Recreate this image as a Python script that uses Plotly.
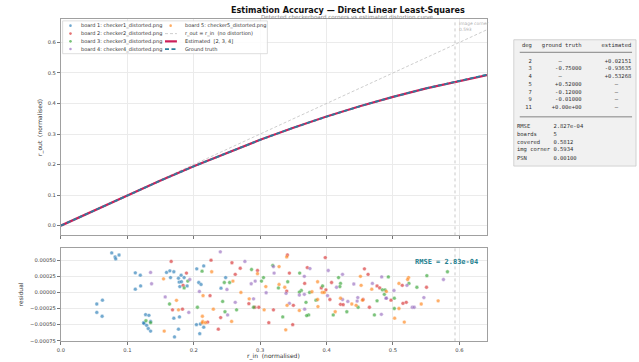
import plotly.graph_objects as go

# ---------------- data ----------------
r_grid = [0.0, 0.05, 0.10, 0.15, 0.20, 0.25, 0.30, 0.35, 0.40, 0.45, 0.50, 0.55, 0.60, 0.65]
r_out_truth = [0.0, 0.04991, 0.09926, 0.14751, 0.19417, 0.23878, 0.28099, 0.32050,
               0.35713, 0.39080, 0.42154, 0.44952, 0.47498, 0.49828]
r_out_est = [0.0, 0.04994, 0.09933, 0.14759, 0.19422, 0.23880, 0.28097, 0.32048,
             0.35715, 0.39088, 0.42163, 0.44947, 0.47453, 0.49702]
identity_r = [0.0, 0.65]

board_names = ["board 1: checker1_distorted.png", "board 2: checker2_distorted.png",
               "board 3: checker3_distorted.png", "board 4: checker4_distorted.png",
               "board 5: checker5_distorted.png"]
board_colors = ["#1f77b4", "#d62728", "#2ca02c", "#9467bd", "#ff7f0e"]

b1_r = [0.0765, 0.0815, 0.0825, 0.0875, 0.054, 0.0625, 0.054, 0.062, 0.112, 0.1195, 0.112, 0.12,
        0.159, 0.1275, 0.1325, 0.1245, 0.125, 0.129, 0.1315, 0.135, 0.135, 0.215, 0.2045, 0.164,
        0.17, 0.165, 0.181, 0.177, 0.1855, 0.178, 0.1815, 0.179, 0.19, 0.2075, 0.211, 0.248,
        0.241, 0.17, 0.1785, 0.204, 0.215, 0.209, 0.177, 0.171, 0.21]
b1_res = [0.000613, 0.00055, 0.00052, 0.00058, -0.00018, -0.00012, -0.00031, -0.00037, 0.000304,
          0.000267, 0.00005, 0.0001, 0.00031, -0.000345, -0.000355, -0.00047, -0.00048, -0.00051,
          -0.00056, -0.0006, -0.00045, 0.00041, 0.000366, 0.000335, 0.00032, 0.00023, 0.000267,
          0.00022, 0.00023, 0.00016, 0.000165, 0.00009, 0.0001, 0.000154, 0.000123, 0.00023,
          0.000066, -0.0004, -0.00038, -0.0005, -0.00054, -0.00064, -0.00057, -0.00069, -0.00049]

b2_r = [0.166, 0.226, 0.2575, 0.27, 0.296, 0.189, 0.184, 0.2245, 0.283, 0.183, 0.2405, 0.292,
        0.298, 0.32, 0.237, 0.313, 0.341, 0.398, 0.371, 0.344, 0.457, 0.4625, 0.367, 0.4075,
        0.392, 0.399, 0.476, 0.48, 0.34, 0.405, 0.421, 0.425, 0.455, 0.4645, 0.35, 0.349, 0.514,
        0.5505, 0.497, 0.515, 0.52, 0.168, 0.221, 0.2625]
b2_res = [0.00048, 0.0005, 0.00046, 0.000375, 0.00034, 0.0003, 0.00011, -0.00005, -0.000175,
          -0.00026, -0.00039, -0.00023, -0.00023, -0.00027, -0.00057, -0.00047, 0.00058, 0.00054,
          0.000385, 0.0003, 0.000365, 0.00028, 0.00014, 0.000154, 0.00007, 0.00004, 0.0001,
          0.00007, 0.00002, -0.00011, -0.000185, -0.00019, -0.00011, -0.00023, -0.0002, -0.0005,
          0.00011, 0.00008, -0.00012, -0.00017, -0.000154, -0.00027, -0.00046, 0.00028]

b3_r = [0.128, 0.135, 0.2125, 0.287, 0.319, 0.191, 0.1855, 0.246, 0.254, 0.305, 0.302, 0.2435,
        0.1635, 0.2055, 0.247, 0.2645, 0.29, 0.3595, 0.418, 0.3415, 0.3275, 0.421, 0.42, 0.394,
        0.484, 0.488, 0.362, 0.359, 0.3745, 0.384, 0.4475, 0.476, 0.369, 0.373, 0.37, 0.41,
        0.4305, 0.334, 0.472, 0.582, 0.551, 0.493, 0.524, 0.536, 0.487, 0.502, 0.502]
b3_res = [-0.00044, -0.00047, 0.00033, 0.000355, 0.00042, 0.000175, 0.00007, 0.000154, 0.000154,
          0.00023, 0.000175, -0.00014, -0.00018, -0.00023, -0.0003, -0.00027, -0.00023, 0.0003,
          0.00023, 0.000165, 0.00007, 0.00014, 0.00009, 0.0001, 0.00004, 0.00004, 0.00003,
          0.000005, 0.0, -0.00012, -0.00023, -0.00013, -0.000154, -0.00035, -0.00036, -0.00035,
          -0.0003, -0.00038, -0.00035, 0.00032, 0.00026, 0.00024, 0.00014, 0.00008, -0.00003,
          -0.00009, -0.00025]

b4_r = [0.135, 0.1365, 0.157, 0.24, 0.277, 0.321, 0.194, 0.25, 0.2925, 0.2865, 0.309, 0.2085,
        0.29, 0.2625, 0.1925, 0.251, 0.32, 0.375, 0.4025, 0.3665, 0.424, 0.483, 0.441, 0.415,
        0.469, 0.339, 0.359, 0.3665, 0.4015, 0.424, 0.432, 0.446, 0.447, 0.4895, 0.344, 0.367,
        0.4825, 0.576, 0.5015, 0.521, 0.5465, 0.529, 0.532, 0.49]
b4_res = [0.00031, 0.000134, -0.00007, 0.00063, 0.00048, 0.0003, 0.0002, 0.000046, 0.000175,
          0.000134, -0.000005, 0.000015, -0.0001, -0.000154, -0.00031, -0.00035, 0.0004, 0.00037,
          0.00034, 0.00025, 0.00028, 0.00024, 0.00013, 0.00008, 0.00014, -0.000015, -0.00004,
          -0.00003, -0.00005, -0.00011, -0.00014, -0.000134, -0.00008, -0.00009, -0.00017,
          -0.00026, -0.00034, 0.0002, 0.00003, 0.00011, -0.00008, -0.00023, -0.00023, -0.00009]

b5_r = [0.1545, 0.1555, 0.227, 0.296, 0.259, 0.3085, 0.214, 0.271, 0.2835, 0.174, 0.2295, 0.177,
        0.306, 0.213, 0.2135, 0.213, 0.2175, 0.257, 0.3285, 0.451, 0.3285, 0.337, 0.3865, 0.452,
        0.468, 0.49, 0.378, 0.3935, 0.3965, 0.3865, 0.421, 0.438, 0.4445, 0.454, 0.3405, 0.387,
        0.359, 0.413, 0.3385, 0.5235, 0.522, 0.509, 0.568, 0.5425, 0.509, 0.5025, 0.517, 0.34]
b5_res = [0.00021, -0.0006, 0.00032, 0.00029, 0.000175, 0.00009, -0.00005, 0.0, -0.0001, -0.000123,
          -0.00026, -0.00027, -0.00027, -0.00037, -0.00045, -0.00047, -0.00047, -0.00045, 0.0004,
          0.00025, 0.000123, 0.00008, 0.000165, 0.00011, 0.00005, 0.000015, 0.00001, 0.0, 0.0,
          -0.00011, -0.00009, -0.00018, -0.0002, -0.00012, -0.0002, -0.00022, -0.00028, -0.0003,
          -0.00058, 0.00023, 0.0002, 0.00014, -0.00013, -0.00018, -0.00025, -0.0004, -0.00046,
          0.00055]

boards_r = [b1_r, b2_r, b3_r, b4_r, b5_r]
boards_res = [b1_res, b2_res, b3_res, b4_res, b5_res]

table_deg = [2, 3, 4, 5, 7, 9, 11]
table_truth = [None, -0.75, None, 0.52, -0.12, -0.01, 0.0]
table_est = [0.02151, -0.93635, 0.53268, None, None, None, None]
stat_labels = ["RMSE", "boards", "covered", "img corner", "PSN"]
stat_values = ["2.827e-04", "5", "0.5812", "0.5934", "0.00100"]
img_corner = 0.5934
rmse_text = "RMSE = 2.83e-04"

# ---------------- layout helpers ----------------
W, H = 639, 362
def X(p): return p / W
def Y(p): return 1 - p / H

TOP = dict(x0=57.3, x1=486, y0=19.3, y1=236.7)
BOT = dict(x0=57.3, x1=486, y0=249.3, y1=343.3)

fig = go.Figure()

# top panel lines
fig.add_trace(go.Scatter(x=identity_r, y=identity_r, mode="lines", xaxis="x", yaxis="y",
                         line=dict(color="#c0c0c0", width=0.8, dash="3px,2px"), showlegend=False))
fig.add_trace(go.Scatter(x=r_grid, y=r_out_est, mode="lines", xaxis="x", yaxis="y",
                         line=dict(color="#cc1f5a", width=2.2), showlegend=False))
fig.add_trace(go.Scatter(x=r_grid, y=r_out_truth, mode="lines", xaxis="x", yaxis="y",
                         line=dict(color="#2a7f9e", width=1.8, dash="4px,2.5px"), showlegend=False))
# image corner lines
for ya in ["y", "y2"]:
    xa = "x" if ya == "y" else "x2"
    rng = [-0.032, 0.676] if ya == "y" else [-0.00076, 0.00069]
    fig.add_trace(go.Scatter(x=[img_corner, img_corner], y=rng, mode="lines", xaxis=xa, yaxis=ya,
                             line=dict(color="#bbbbbb", width=0.8, dash="dot"), showlegend=False))

# residual scatter
for name, col, rr, res in zip(board_names, board_colors, boards_r, boards_res):
    fig.add_trace(go.Scatter(x=rr, y=res, mode="markers", xaxis="x2", yaxis="y2", name=name,
                             marker=dict(color=col, size=3.8, opacity=0.62,
                                         line=dict(color="white", width=0.4)),
                             showlegend=False))

axis_common = dict(showline=True, mirror=True, linecolor="#a0a0a0", linewidth=1,
                   showgrid=True, gridcolor="#ebebeb", gridwidth=0.8, zeroline=False,
                   ticks="outside", ticklen=3, tickwidth=0.8, tickcolor="#777",
                   tickfont=dict(family="DejaVu Sans", size=5.2, color="#444"))

fig.update_layout(
    width=W, height=H, margin=dict(l=0, r=0, t=0, b=0),
    paper_bgcolor="white", plot_bgcolor="white", showlegend=False,
    xaxis=dict(domain=[X(TOP["x0"]), X(TOP["x1"])], range=[0, 0.6415], dtick=0.1, tick0=0,
               showticklabels=False, anchor="y", **axis_common),
    yaxis=dict(domain=[Y(TOP["y1"]), Y(TOP["y0"])], range=[-0.032, 0.676], dtick=0.1, tick0=0,
               tickformat=".1f", anchor="x", **axis_common),
    xaxis2=dict(domain=[X(BOT["x0"]), X(BOT["x1"])], range=[0, 0.6415], dtick=0.1, tick0=0,
                tickformat=".1f", anchor="y2", **axis_common),
    yaxis2=dict(domain=[Y(BOT["y1"]), Y(BOT["y0"])], range=[-0.00076, 0.00069], dtick=0.00025,
                tick0=0, tickformat=".5f", anchor="x2", **axis_common),
)

ann = []
shapes = []

def text_at(px, py, text, font, xanchor="center", yanchor="middle", **kw):
    ann.append(dict(x=X(px), y=Y(py), xref="paper", yref="paper", showarrow=False,
                    xanchor=xanchor, yanchor=yanchor, text=text, font=font,
                    borderpad=0, **kw))

# titles
text_at(346, 10, "<b>Estimation Accuracy — Direct Linear Least-Squares</b>",
        dict(family="DejaVu Sans", size=8.1, color="#111"))
text_at(346, 17.4, "Detected checkerboard corners vs estimated distortion curve",
        dict(family="DejaVu Sans", size=5.6, color="#888"))
# axis titles
text_at(37, 128, "r_out  (normalised)", dict(family="DejaVu Sans", size=6, color="#333"),
        textangle=-90)
text_at(16, 296, "residual", dict(family="DejaVu Sans", size=6, color="#333"), textangle=-90)
text_at(271, 357.5, "r_in  (normalised)", dict(family="DejaVu Sans", size=6, color="#333"))
# image corner label
text_at(457, 20, f"image corner<br>{img_corner:.3f}",
        dict(family="DejaVu Sans", size=4.4, color="#b0b0b0"), xanchor="left", yanchor="top",
        align="left")
# RMSE label
text_at(478, 263.5, f"<b>{rmse_text}</b>",
        dict(family="DejaVu Sans Mono", size=7, color="#1f7f8f"), xanchor="right")

# custom legend
shapes.append(dict(type="rect", xref="paper", yref="paper", x0=X(59), x1=X(265), y0=Y(54), y1=Y(21),
                   fillcolor="rgba(255,255,255,0.85)", line=dict(color="#d4d4d4", width=0.8),
                   layer="above"))
rows_y = [25.8, 33.8, 41.6, 49.3]
leg_font = dict(family="DejaVu Sans", size=5, color="#333")
for i in range(4):
    yy = rows_y[i]
    shapes.append(dict(type="circle", xref="paper", yref="paper", x0=X(65.6), x1=X(68.2),
                       y0=Y(yy + 1.3), y1=Y(yy - 1.3), fillcolor=board_colors[i], opacity=0.65,
                       line=dict(width=0), layer="above"))
    text_at(76, yy, board_names[i], leg_font, xanchor="left")
col2 = [(board_names[4], "marker"), ("r_out = r_in  (no distortion)", "identity"),
        ("Estimated  [2, 3, 4]", "est"), ("Ground truth", "truth")]
for (label, kind), yy in zip(col2, rows_y):
    if kind == "marker":
        shapes.append(dict(type="circle", xref="paper", yref="paper", x0=X(166.4), x1=X(169.0),
                           y0=Y(yy + 1.3), y1=Y(yy - 1.3), fillcolor=board_colors[4], opacity=0.65,
                           line=dict(width=0), layer="above"))
    elif kind == "identity":
        shapes.append(dict(type="line", xref="paper", yref="paper", x0=X(162), x1=X(174), y0=Y(yy),
                           y1=Y(yy), line=dict(color="#c0c0c0", width=0.8, dash="3px,2px"),
                           layer="above"))
    elif kind == "est":
        shapes.append(dict(type="line", xref="paper", yref="paper", x0=X(162), x1=X(174), y0=Y(yy),
                           y1=Y(yy), line=dict(color="#cc1f5a", width=2.2), layer="above"))
    else:
        shapes.append(dict(type="line", xref="paper", yref="paper", x0=X(162), x1=X(174), y0=Y(yy),
                           y1=Y(yy), line=dict(color="#2a7f9e", width=1.8, dash="4px,2.5px"),
                           layer="above"))
    text_at(181, yy, label, leg_font, xanchor="left")

# coefficient table
shapes.append(dict(type="rect", xref="paper", yref="paper", x0=X(513), x1=X(636), y0=Y(167), y1=Y(40),
                   fillcolor="#f1f1f1", line=dict(color="#c8c8c8", width=0.8)))
mono = dict(family="DejaVu Sans Mono", size=5.5, color="#333")
def fmt(v):
    if v is None:
        return "—"
    if abs(v) < 1e-4:
        return f"{v:+.2e}"
    return f"{v:+.5f}"
lines = ["deg   ground truth      estimated"]
for d, t, e in zip(table_deg, table_truth, table_est):
    ts = f"{fmt(t):^12}" if t is None else f"{fmt(t):>12}"
    es = f"{fmt(e):^9}" if e is None else f"{fmt(e):>9}"
    lines.append(f"{d:>3}   {ts}      {es}")
line_y = [45.6] + [61 + 7.8 * i for i in range(len(table_deg))]
for txt, yy in zip(lines, line_y):
    text_at(520, yy, txt, mono, xanchor="left")
for sy in [52.6, 117.5]:
    shapes.append(dict(type="line", xref="paper", yref="paper", x0=X(519), x1=X(632), y0=Y(sy),
                       y1=Y(sy), line=dict(color="#555", width=0.7)))
for i, (k, v) in enumerate(zip(stat_labels, stat_values)):
    text_at(515, 126.8 + 8 * i, f"{k:<10} {v}", mono, xanchor="left")

fig.update_layout(annotations=ann, shapes=shapes)
fig.write_html("out.html")
